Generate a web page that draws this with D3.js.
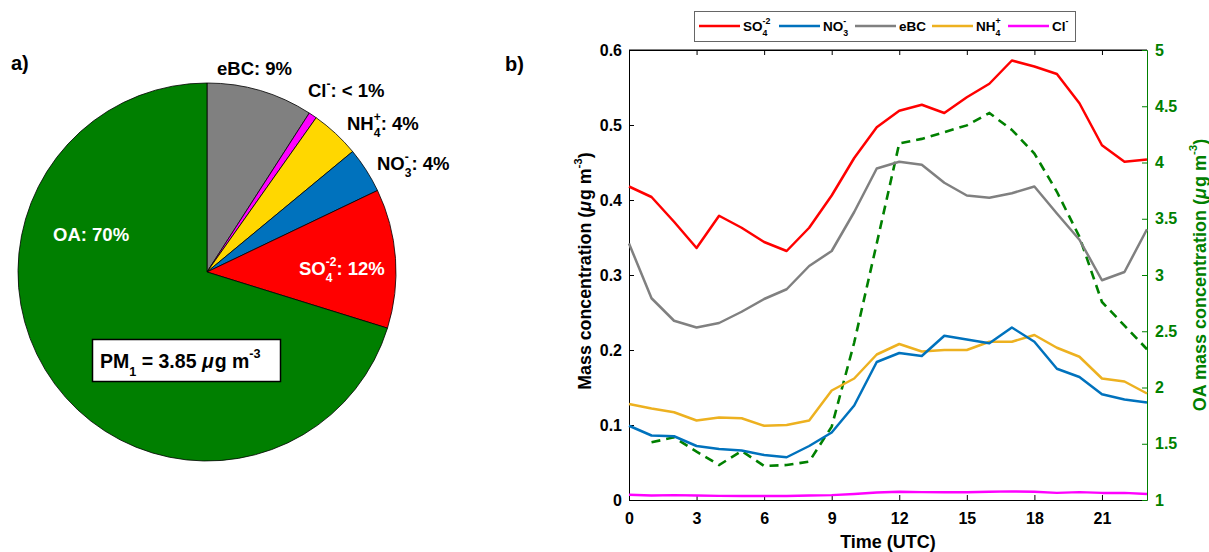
<!DOCTYPE html>
<html><head><meta charset="utf-8">
<script src="https://cdn.jsdelivr.net/npm/d3@7"></script>
<style>body{margin:0;background:#fff}svg{display:block}text{font-family:"Liberation Sans",Arial,sans-serif;font-weight:bold;white-space:pre}</style>
</head><body><svg id="c" width="1209" height="552"></svg>
<script>
// ---- Data ----
const pieNames = ["eBC","Cl","NH4","NO3","SO4","OA"];
const pieValues = [9.1, 0.7, 4.2, 3.9, 11.9, 70.2];
const pieColors = ["#808080","#ff00ff","#ffd700","#0072bd","#ff0000","#007f00"];
const hours = d3.range(0,24);
const so4 = [0.418,0.404,0.371,0.336,0.379,0.363,0.344,0.332,0.363,0.406,0.456,0.497,0.519,0.527,0.516,0.537,0.555,0.586,0.578,0.568,0.529,0.473,0.451,0.454];
const no3 = [0.099,0.086,0.085,0.072,0.068,0.066,0.060,0.057,0.072,0.090,0.126,0.184,0.196,0.192,0.219,0.214,0.209,0.230,0.211,0.175,0.164,0.141,0.134,0.130];
const ebc = [0.342,0.269,0.239,0.230,0.236,0.251,0.268,0.281,0.312,0.332,0.384,0.442,0.451,0.447,0.423,0.406,0.403,0.409,0.418,0.382,0.347,0.293,0.304,0.361];
const nh4 = [0.128,0.122,0.117,0.106,0.110,0.109,0.099,0.100,0.106,0.146,0.162,0.194,0.208,0.198,0.200,0.200,0.211,0.211,0.220,0.203,0.191,0.162,0.158,0.142];
const cl  = [0.007,0.006,0.0065,0.006,0.0055,0.0055,0.0055,0.0055,0.006,0.0065,0.008,0.010,0.011,0.0105,0.0105,0.0105,0.011,0.0115,0.011,0.0095,0.0105,0.0095,0.0095,0.008];
const oa  = [null,1.513,1.557,1.43,1.311,1.436,1.302,1.311,1.341,1.652,2.40,3.28,4.17,4.21,4.27,4.33,4.44,4.29,4.08,3.74,3.34,2.76,2.55,2.34];
const xTicks = [0,3,6,9,12,15,18,21];
const yLeftTicks = [0,0.1,0.2,0.3,0.4,0.5,0.6];
const yRightTicks = [1,1.5,2,2.5,3,3.5,4,4.5,5];

const svg = d3.select("#c");

// rich text helper: parts = [{t, it}, {sub, sup}]
function rich(g, x, y, parts, size, fill, anchor){
  const grp = g.append("g");
  let cx = 0;
  const ss = size*0.65;
  parts.forEach(p=>{
    if(p.t!==undefined){
      const t = grp.append("text").attr("xml:space","preserve").attr("x",cx).attr("y",0).attr("font-size",size).attr("fill",fill).text(p.t);
      if(p.it) t.attr("font-style","italic");
      cx += t.node().getComputedTextLength() + (p.it?1:0);
    } else {
      let w = 0;
      if(p.sup!==undefined){
        const s = grp.append("text").attr("xml:space","preserve").attr("x",cx).attr("y",-size*0.5).attr("font-size",ss).attr("fill",fill).text(p.sup);
        w = Math.max(w, s.node().getComputedTextLength());
      }
      if(p.sub!==undefined){
        const s = grp.append("text").attr("xml:space","preserve").attr("x",cx).attr("y",size*0.4).attr("font-size",ss).attr("fill",fill).text(p.sub);
        w = Math.max(w, s.node().getComputedTextLength());
      }
      cx += w;
    }
  });
  let ox = x;
  if(anchor==="middle") ox = x - cx/2;
  else if(anchor==="end") ox = x - cx;
  grp.attr("transform",`translate(${ox},${y})`);
  grp.node().__w = cx;
  return grp;
}

// ---- Panel a: pie ----
svg.append("text").attr("x",11).attr("y",70).attr("font-size",20).text("a)");
const pc = {x:207, y:272, r:189};
const pie = d3.pie().sort(null).value(d=>d)(pieValues);
const arc = d3.arc().innerRadius(0).outerRadius(pc.r);
const pg = svg.append("g").attr("transform",`translate(${pc.x},${pc.y})`);
pg.selectAll("path").data(pie).join("path").attr("d",arc)
  .attr("fill",(d,i)=>pieColors[i]).attr("stroke","#000").attr("stroke-width",0.8);

const PF = 18.5;
rich(svg,217,75,[{t:"eBC: 9%"}],PF,"#000");
rich(svg,308,97,[{t:"Cl"},{sup:"-"},{t:": < 1%"}],PF,"#000");
rich(svg,347,130,[{t:"NH"},{sub:"4",sup:"+"},{t:": 4%"}],PF,"#000");
rich(svg,377,170,[{t:"NO"},{sub:"3",sup:"-"},{t:": 4%"}],PF,"#000");
rich(svg,299,275,[{t:"SO"},{sub:"4",sup:"-2"},{t:": 12%"}],PF,"#fff");
rich(svg,53,241,[{t:"OA: 70%"}],PF,"#fff");
svg.append("rect").attr("x",92.5).attr("y",339.5).attr("width",188).attr("height",42)
  .attr("fill","#fff").attr("stroke","#000").attr("stroke-width",1.5);
rich(svg,100,368,[{t:"PM"},{sub:"1"},{t:" = 3.85 "},{t:"μ",it:true},{t:"g m"},{sup:"-3"}],19.5,"#000");

// ---- Panel b: lines ----
svg.append("text").attr("x",505).attr("y",71).attr("font-size",20).text("b)");
const L=629, R=1147, T=50, B=500;
const x = d3.scaleLinear().domain([0,23]).range([L,R]);
const yL = d3.scaleLinear().domain([0,0.6]).range([B,T]);
const yR = d3.scaleLinear().domain([1,5]).range([B,T]);
const green = "#008000";

// box
svg.append("line").attr("x1",L).attr("x2",R).attr("y1",T).attr("y2",T).attr("stroke","#000").attr("stroke-width",1);
const bottomAx = svg.append("g").attr("transform",`translate(0,${B})`)
  .call(d3.axisBottom(x).tickValues(xTicks).tickSizeInner(-5).tickSizeOuter(0).tickPadding(13));
const topAx = svg.append("g").attr("transform",`translate(0,${T})`)
  .call(d3.axisTop(x).tickValues(xTicks).tickSizeInner(-5).tickSizeOuter(0).tickFormat(""));
const leftAx = svg.append("g").attr("transform",`translate(${L},0)`)
  .call(d3.axisLeft(yL).tickValues(yLeftTicks).tickSizeInner(-5).tickSizeOuter(0).tickPadding(7).tickFormat(d=>d===0?"0":d3.format(".1f")(d)));
const rightAx = svg.append("g").attr("transform",`translate(${R},0)`)
  .call(d3.axisRight(yR).tickValues(yRightTicks).tickSizeInner(-5).tickSizeOuter(0).tickPadding(8).tickFormat(d=>String(d)));
[bottomAx,topAx,leftAx].forEach(a=>{a.selectAll("path,line").attr("stroke","#000").attr("stroke-width",1);a.selectAll("text").attr("font-size",16).attr("fill","#000").attr("font-family",null);});
rightAx.selectAll("path,line").attr("stroke",green).attr("stroke-width",1);
rightAx.selectAll("text").attr("font-size",16).attr("fill",green).attr("font-family",null);
bottomAx.selectAll("text").attr("dy","0.71em");

const lineL = d3.line().defined(d=>d[1]!==null).x(d=>x(d[0])).y(d=>yL(d[1]));
const lineR = d3.line().defined(d=>d[1]!==null).x(d=>x(d[0])).y(d=>yR(d[1]));
const series = [
  {v:nh4,c:"#edb120"},{v:no3,c:"#0072bd"},{v:ebc,c:"#808080"},{v:so4,c:"#ff0000"},{v:cl,c:"#ff00ff"}
];
const plot = svg.append("g");
plot.append("path").datum(hours.map((h,i)=>[h,oa[i]])).attr("d",lineR)
  .attr("fill","none").attr("stroke",green).attr("stroke-width",2.6).attr("stroke-dasharray","9,6");
series.forEach(s=>{
  plot.append("path").datum(hours.map((h,i)=>[h,s.v[i]])).attr("d",lineL)
    .attr("fill","none").attr("stroke",s.c).attr("stroke-width",2.5).attr("stroke-linejoin","round");
});

// axis titles
svg.append("text").attr("x",888).attr("y",548).attr("text-anchor","middle").attr("font-size",18).text("Time (UTC)");
const lt = rich(svg,0,0,[{t:"Mass concentration ("},{t:"μ",it:true},{t:"g m"},{sup:"-3"},{t:")"}],17.8,"#000");
const lw = lt.node().__w;
lt.attr("transform",`translate(591,${271+lw/2}) rotate(-90)`);
const rt = rich(svg,0,0,[{t:"OA mass concentration ("},{t:"μ",it:true},{t:"g m"},{sup:"-3"},{t:")"}],18,green);
const rw = rt.node().__w;
rt.attr("transform",`translate(1206,${275+rw/2}) rotate(-90)`);

// legend
svg.append("rect").attr("x",694.5).attr("y",11.5).attr("width",381).attr("height",30)
  .attr("fill","#fff").attr("stroke","#666").attr("stroke-width",1);
const legItems = [
  {c:"#ff0000",x:699,parts:[{t:"SO"},{sub:"4",sup:"-2"}]},
  {c:"#0072bd",x:779,parts:[{t:"NO"},{sub:"3",sup:"-"}]},
  {c:"#808080",x:855,parts:[{t:"eBC"}]},
  {c:"#edb120",x:932,parts:[{t:"NH"},{sub:"4",sup:"+"}]},
  {c:"#ff00ff",x:1008,parts:[{t:"Cl"},{sup:"-"}]}
];
legItems.forEach(it=>{
  svg.append("line").attr("x1",it.x).attr("x2",it.x+41).attr("y1",26).attr("y2",26).attr("stroke",it.c).attr("stroke-width",2.5);
  rich(svg,it.x+44,31,it.parts,13.5,"#000");
});
</script></body></html>
